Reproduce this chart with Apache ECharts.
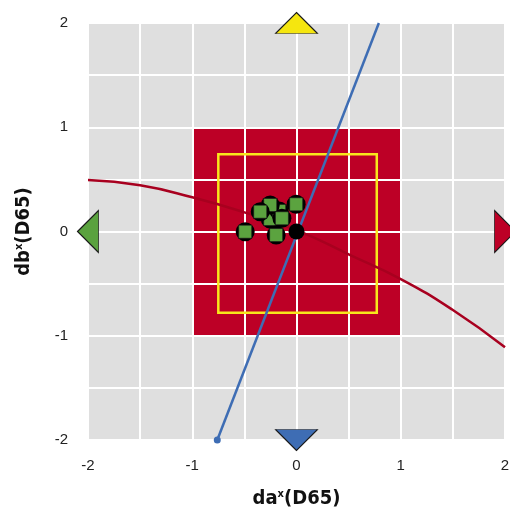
<!DOCTYPE html>
<html>
<head>
<meta charset="utf-8">
<script src="https://cdn.jsdelivr.net/npm/echarts@6/dist/echarts.min.js"></script>
<style>html,body{margin:0;padding:0;background:#fff}#c{width:510px;height:510px}</style>
</head>
<body>
<div id="c"></div>
<script>
// Axis ticks
var axisTicks = [-2, -1, 0, 1, 2];
// Tolerance box (red) and inner box (yellow): [xMin, xMax, yMin, yMax]
var outerBox = [-1, 1, -1, 1];
var innerBox = [-0.75, 0.77, -0.78, 0.74];
// Blue line (b* direction)
var blueX = [-0.76, 0.79];
var blueY = [-2, 2];
// Dark red curve (a* direction)
var curveX = [-2, -1.5, -1, -0.5, 0, 0.5, 1, 1.5, 2];
var curveY = [0.494, 0.443, 0.328, 0.184, 0.014, -0.219, -0.456, -0.753, -1.11];
// Measured samples (green squares)
var ptsX = [-0.252, -0.166, -0.252, -0.348, -0.14, -0.003, -0.492, -0.195];
var ptsY = [0.12, 0.197, 0.254, 0.19, 0.127, 0.261, -0.002, -0.034];
// Reference point (black)
var refX = [0];
var refY = [0];
// Direction triangles
var triX = [0, 0, -2, 2];
var triY = [2, -2, 0, 0];

var chart = echarts.init(document.getElementById('c'), null, {renderer: 'canvas'});

var TF = "'DejaVu Sans','Liberation Sans',sans-serif";
var titleRich = {
  a: {fontFamily: TF, fontWeight: 'bold condensed', fontSize: 20, color: '#111'},
  s: {fontFamily: TF, fontWeight: 'bold condensed', fontSize: 11, color: '#111', verticalAlign: 'top', padding: [0, 0, 9, 0]}
};

function axisCfg(nameGap, rotate) {
  return {
    type: 'value', min: axisTicks[0], max: axisTicks[axisTicks.length - 1], interval: 0.5,
    z: 1,
    name: '{a|da}{s|x}{a|(D65)}', nameLocation: 'middle', nameGap: nameGap, nameRotate: rotate,
    nameTextStyle: {rich: titleRich},
    axisLine: {show: false}, axisTick: {show: false},
    splitLine: {show: true, lineStyle: {color: '#ffffff', width: 2}},
    axisLabel: {
      fontFamily: "'Liberation Sans',Arial,sans-serif", fontSize: 15, color: '#222',
      formatter: function (v) { return axisTicks.indexOf(v) >= 0 ? String(v) : ''; }
    }
  };
}

var xAxis = axisCfg(49, 0);
xAxis.axisLabel.margin = 18;
var yAxis = axisCfg(54, 90);
yAxis.name = '{a|db}{s|x}{a|(D65)}';
yAxis.axisLabel.margin = 20;

var triColors = ['#f5e60f', '#3e6db4', '#5aa23e', '#bd0026'];
var triRot = [0, 180, 90, -90];
var triSize = [[42, 21], [42, 21], [42, 21], [42, 21]];

var option = {
  animation: false,
  grid: {left: 88, right: 5, top: 23, bottom: 70, show: true, backgroundColor: '#dfdfdf', borderWidth: 0, z: -1,
    containLabel: false, outerBoundsMode: 'none'},
  xAxis: xAxis,
  yAxis: yAxis,
  series: [
    {
      type: 'custom', z: 0, silent: true,
      data: [[outerBox[0], outerBox[2], outerBox[1], outerBox[3]]],
      renderItem: function (params, api) {
        var p1 = api.coord([api.value(0), api.value(3)]);
        var p2 = api.coord([api.value(2), api.value(1)]);
        return {type: 'rect', shape: {x: p1[0], y: p1[1], width: p2[0] - p1[0], height: p2[1] - p1[1]}, style: {fill: '#bd0026'}};
      }
    },
    {
      type: 'custom', z: 2, silent: true,
      data: [[innerBox[0], innerBox[2], innerBox[1], innerBox[3]]],
      renderItem: function (params, api) {
        var p1 = api.coord([api.value(0), api.value(3)]);
        var p2 = api.coord([api.value(2), api.value(1)]);
        return {type: 'rect', shape: {x: p1[0], y: p1[1], width: p2[0] - p1[0], height: p2[1] - p1[1]}, style: {fill: 'none', stroke: '#f8e71c', lineWidth: 2.5}};
      }
    },
    {
      type: 'line', z: 3, smooth: true, symbol: 'none',
      data: curveX.map(function (x, i) { return [x, curveY[i]]; }),
      lineStyle: {color: '#a8001f', width: 2.5}
    },
    {
      type: 'line', z: 4,
      data: blueX.map(function (x, i) {
        return {value: [x, blueY[i]], symbol: i === 0 ? 'circle' : 'none', symbolSize: 7};
      }),
      itemStyle: {color: '#3e6db4', opacity: 1},
      lineStyle: {color: '#3e6db4', width: 2.5}
    },
    {
      type: 'custom', z: 5, silent: true,
      data: ptsX.map(function (x, i) { return [x, ptsY[i]]; }),
      renderItem: function (params, api) {
        var p = api.coord([api.value(0), api.value(1)]);
        return {type: 'group', children: [
          {type: 'circle', shape: {cx: p[0], cy: p[1], r: 9.5}, style: {fill: '#000'}},
          {type: 'rect', shape: {x: p[0] - 6.5, y: p[1] - 6.5, width: 13, height: 13}, style: {fill: '#5ba33f', stroke: '#1a1a1a', lineWidth: 0.6}}
        ]};
      }
    },
    {
      type: 'scatter', z: 6, symbol: 'circle', symbolSize: 16,
      data: refX.map(function (x, i) { return [x, refY[i]]; }),
      itemStyle: {color: '#000', opacity: 1}
    },
    {
      type: 'scatter', z: 7, clip: false,
      data: triX.map(function (x, i) {
        return {value: [x, triY[i]], symbol: 'triangle', symbolSize: triSize[i], symbolRotate: triRot[i],
          itemStyle: {color: triColors[i], borderColor: '#1a1a1a', borderWidth: 1, opacity: 1}};
      })
    }
  ]
};
chart.setOption(option);
</script>
</body>
</html>
